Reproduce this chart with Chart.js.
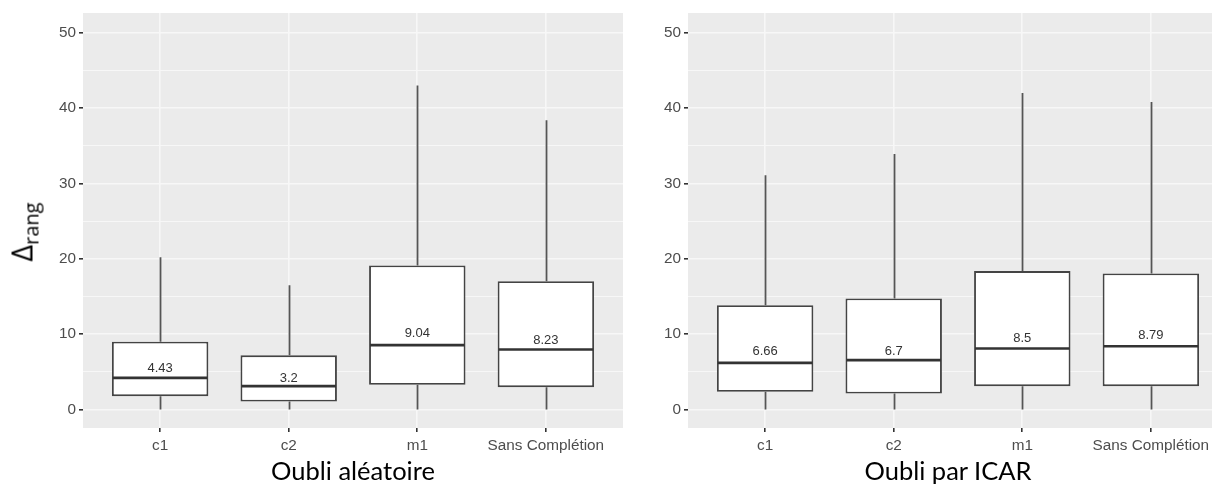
<!DOCTYPE html>
<html>
<head>
<meta charset="utf-8">
<script src="https://cdn.jsdelivr.net/npm/chart.js@4"></script>
<style>
  html, body { margin: 0; padding: 0; background: #fff; overflow: hidden; }
  body { position: relative; width: 1212px; height: 495px; }
  canvas { position: absolute; top: 0; }
  #panel-left { left: 0; }
  #panel-right { left: 600px; }
  .panel-title {
    position: absolute; top: 455px; font-family: Lato, "Noto Sans", sans-serif;
    font-size: 25.5px; color: #000; transform: translateX(-50%); white-space: nowrap;
  }
  #y-title {
    position: absolute; left: 24px; top: 232px; font-family: "Open Sans", "Noto Sans", sans-serif;
    color: #000; transform: translate(-50%, -50%) rotate(-90deg); white-space: nowrap;
    font-size: 29px; line-height: 1;
  }
  #y-title sub { font-size: 20px; vertical-align: -6px; }
</style>
</head>
<body>
<canvas id="panel-left" width="630" height="495"></canvas>
<canvas id="panel-right" width="640" height="495"></canvas>
<div id="y-title">Δ<sub>rang</sub></div>
<div class="panel-title" style="left:353px">Oubli aléatoire</div>
<div class="panel-title" style="left:948px">Oubli par ICAR</div>
<script>
// categories + ticks
const categories = ['c1', 'c2', 'm1', 'Sans Complétion'];
const yMajorTicks = [0, 10, 20, 30, 40, 50];
const yMinorTicks = [5, 15, 25, 35, 45];

// Oubli aléatoire
const aleaLow = [0, 0, 0, 0];
const aleaQ1 = [1.77, 1.06, 3.28, 2.96];
const aleaMedian = [4.2, 3.1, 8.54, 7.97];
const aleaQ3 = [9.0, 7.2, 19.12, 17.04];
const aleaHigh = [20.2, 16.5, 43.0, 38.4];
const aleaMean = [4.43, 3.2, 9.04, 8.23];

// Oubli par ICAR
const icarLow = [0, 0, 0, 0];
const icarQ1 = [2.35, 2.12, 3.1, 3.1];
const icarMedian = [6.2, 6.55, 8.1, 8.4];
const icarQ3 = [13.85, 14.74, 18.37, 18.06];
const icarHigh = [31.1, 33.9, 42.0, 40.8];
const icarMean = [6.66, 6.7, 8.5, 8.79];

const tickGrey = '#4d4d4d';
const panelBg = '#ebebeb';

// whiskers behind the boxes, medians + mean labels on top
const boxplotExtras = {
  id: 'boxplotExtras',
  beforeDraw(c) {
    const a = c.chartArea;
    const ctx = c.ctx;
    ctx.save();
    ctx.fillStyle = panelBg;
    ctx.fillRect(a.left, a.top, a.right - a.left, a.bottom - a.top);
    ctx.restore();
  },
  beforeDatasetsDraw(c, args, opts) {
    const x = c.scales.x, y = c.scales.y, ctx = c.ctx;
    ctx.save();
    ctx.strokeStyle = '#555';
    ctx.lineWidth = 1.8;
    opts.q1.forEach((q1, i) => {
      const px = Math.round(x.getPixelForValue(i + 1)) + 0.5;
      ctx.beginPath();
      ctx.moveTo(px, y.getPixelForValue(opts.high[i]));
      ctx.lineTo(px, y.getPixelForValue(opts.q3[i]));
      ctx.moveTo(px, y.getPixelForValue(q1));
      ctx.lineTo(px, y.getPixelForValue(opts.low[i]));
      ctx.stroke();
    });
    ctx.restore();
  },
  afterDatasetsDraw(c, args, opts) {
    const x = c.scales.x, y = c.scales.y, ctx = c.ctx;
    const half = (x.getPixelForValue(2) - x.getPixelForValue(1)) * 0.75 / 2;
    ctx.save();
    ctx.strokeStyle = '#333';
    ctx.lineWidth = 2.7;
    opts.median.forEach((m, i) => {
      const px = x.getPixelForValue(i + 1);
      const py = y.getPixelForValue(m);
      ctx.beginPath();
      ctx.moveTo(px - half + 1, py);
      ctx.lineTo(px + half - 1, py);
      ctx.stroke();
    });
    ctx.fillStyle = '#333';
    ctx.font = '13px "Liberation Sans", Arial, sans-serif';
    ctx.textAlign = 'center';
    ctx.textBaseline = 'bottom';
    opts.mean.forEach((m, i) => {
      ctx.fillText(String(m), x.getPixelForValue(i + 1), y.getPixelForValue(m) - 1);
    });
    ctx.restore();
  }
};

function makePanel(id, yAxisWidth, padRight, q1, median, q3, low, high, mean) {
  return new Chart(document.getElementById(id), {
    type: 'bar',
    data: {
      datasets: [{
        data: q1.map((v, i) => ({ x: i + 1, y: [v, q3[i]] })),
        backgroundColor: '#ffffff',
        borderColor: '#444',
        borderWidth: 1.9,
        borderSkipped: false,
        categoryPercentage: 1,
        barPercentage: 0.75,
      }]
    },
    options: {
      responsive: false,
      animation: false,
      devicePixelRatio: 1,
      layout: { padding: { top: 13, right: padRight, left: 0, bottom: 0 } },
      scales: {
        x: {
          type: 'linear',
          min: 0.4,
          max: 4.6,
          offset: false,
          afterBuildTicks: (s) => { s.ticks = categories.map((c, i) => ({ value: i + 1 })); },
          afterFit: (s) => { s.height = 67; },
          border: { display: false },
          grid: { offset: false, color: '#f7f7f7', lineWidth: 1.6, tickColor: '#333', tickLength: 4 },
          ticks: {
            color: tickGrey,
            padding: 5,
            font: { family: '"Liberation Sans", Arial, sans-serif', size: 15.3 },
            callback: (v) => categories[v - 1],
            maxRotation: 0,
          },
        },
        y: {
          min: -2.45,
          max: 52.62,
          afterBuildTicks: (s) => {
            s.ticks = yMajorTicks.concat(yMinorTicks).sort((a, b) => a - b).map((v) => ({ value: v }));
          },
          afterFit: (s) => { s.width = yAxisWidth; },
          border: { display: false },
          grid: {
            color: '#f7f7f7',
            lineWidth: (ctx) => (ctx.tick && yMinorTicks.includes(ctx.tick.value) ? 1 : 1.6),
            tickColor: (ctx) => (ctx.tick && yMinorTicks.includes(ctx.tick.value) ? 'rgba(0,0,0,0)' : '#333'),
            tickLength: 4,
          },
          ticks: {
            color: tickGrey,
            padding: 3,
            font: { family: '"Liberation Sans", Arial, sans-serif', size: 15.3 },
            callback: (v) => (yMajorTicks.includes(v) ? String(v) : ''),
          },
        },
      },
      plugins: {
        legend: { display: false },
        tooltip: { enabled: false },
        boxplotExtras: { q1, median, q3, low, high, mean },
      },
    },
    plugins: [boxplotExtras],
  });
}

makePanel('panel-left', 83, 7, aleaQ1, aleaMedian, aleaQ3, aleaLow, aleaHigh, aleaMean);
makePanel('panel-right', 88, 12, icarQ1, icarMedian, icarQ3, icarLow, icarHigh, icarMean);
</script>
</body>
</html>
